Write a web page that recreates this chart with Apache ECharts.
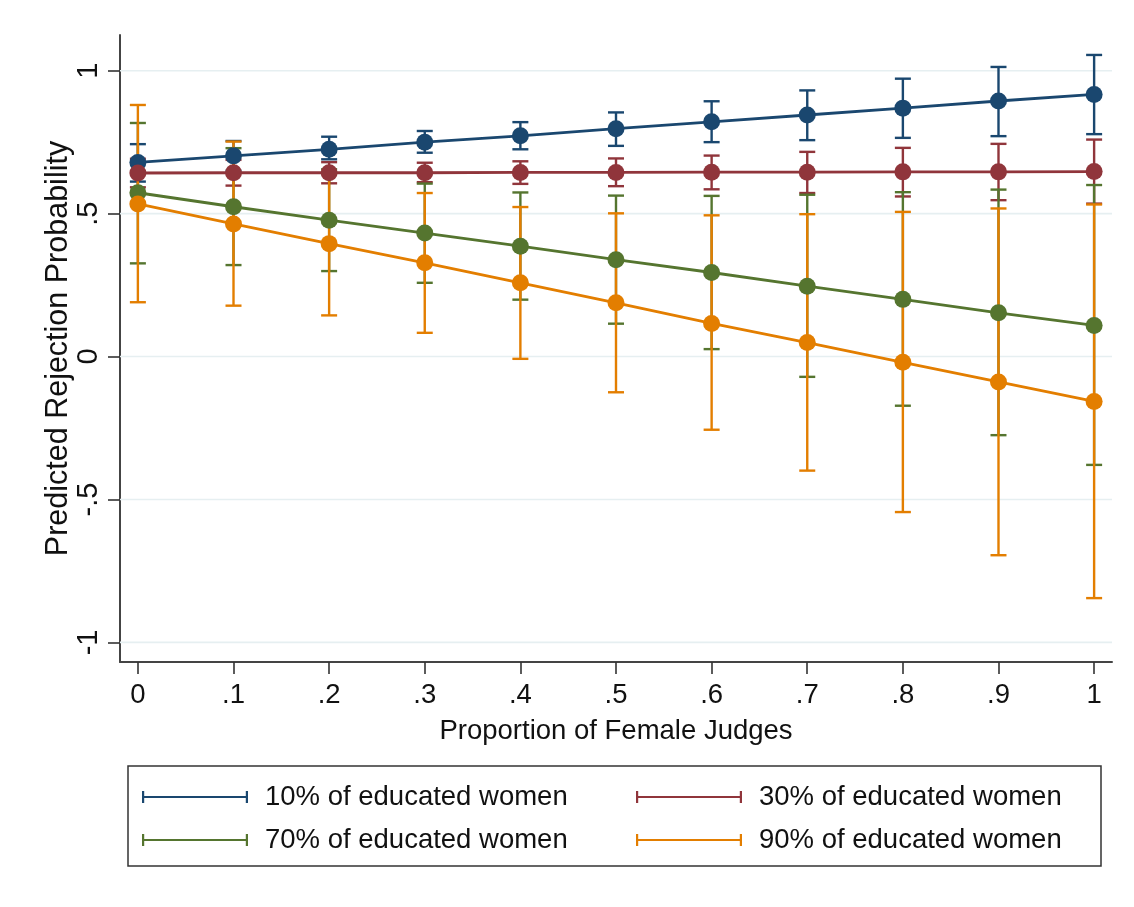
<!DOCTYPE html>
<html>
<head>
<meta charset="utf-8">
<title>Predicted Rejection Probability</title>
<script src="https://cdn.jsdelivr.net/npm/echarts@6/dist/echarts.min.js"></script>
<style>
  html, body { margin: 0; padding: 0; background: #ffffff; }
  #chart { width: 1134px; height: 907px; }
</style>
</head>
<body>
<div id="chart"></div>
<script>
// Proportion of female judges (x positions)
const judgeShare = [0, 0.1, 0.2, 0.3, 0.4, 0.5, 0.6, 0.7, 0.8, 0.9, 1];

// Tick values and their printed labels
const xTickValues = [0, 0.1, 0.2, 0.3, 0.4, 0.5, 0.6, 0.7, 0.8, 0.9, 1];
const xTickLabels = ['0', '.1', '.2', '.3', '.4', '.5', '.6', '.7', '.8', '.9', '1'];
const yTickValues = [-1, -0.5, 0, 0.5, 1];
const yTickLabels = ['-1', '-.5', '0', '.5', '1'];

// Group names
const groupNames = ['10% of educated women', '30% of educated women', '70% of educated women', '90% of educated women'];

// 10% of educated women: estimate and 95% CI
const edu10Est = [0.679, 0.702, 0.725, 0.750, 0.772, 0.797, 0.821, 0.845, 0.869, 0.894, 0.917];
const edu10Lo  = [0.612, 0.650, 0.690, 0.713, 0.725, 0.737, 0.750, 0.757, 0.765, 0.771, 0.778];
const edu10Hi  = [0.743, 0.754, 0.769, 0.789, 0.820, 0.854, 0.893, 0.931, 0.972, 1.013, 1.055];

// 30% of educated women
const edu30Est = [0.642, 0.643, 0.643, 0.643, 0.644, 0.644, 0.645, 0.645, 0.646, 0.646, 0.647];
const edu30Lo  = [0.592, 0.598, 0.606, 0.610, 0.604, 0.596, 0.585, 0.572, 0.560, 0.547, 0.535];
const edu30Hi  = [0.692, 0.688, 0.680, 0.678, 0.683, 0.693, 0.703, 0.716, 0.730, 0.744, 0.759];

// 70% of educated women
const edu70Est = [0.573, 0.524, 0.477, 0.432, 0.386, 0.339, 0.294, 0.246, 0.200, 0.153, 0.109];
const edu70Lo  = [0.326, 0.320, 0.299, 0.258, 0.199, 0.115, 0.026, -0.071, -0.172, -0.275, -0.379];
const edu70Hi  = [0.817, 0.729, 0.655, 0.605, 0.574, 0.563, 0.562, 0.566, 0.575, 0.584, 0.600];

// 90% of educated women
const edu90Est = [0.534, 0.464, 0.395, 0.328, 0.258, 0.188, 0.116, 0.049, -0.020, -0.089, -0.157];
const edu90Lo  = [0.190, 0.178, 0.144, 0.083, -0.008, -0.125, -0.256, -0.399, -0.544, -0.695, -0.845];
const edu90Hi  = [0.880, 0.752, 0.646, 0.572, 0.523, 0.501, 0.494, 0.498, 0.506, 0.518, 0.532];

const groupColors = ['#1a476f', '#90353b', '#55752f', '#e37e00'];
const FONT = "'Liberation Sans', Arial, Helvetica, sans-serif";

const estimates = [edu10Est, edu30Est, edu70Est, edu90Est];
const lowers = [edu10Lo, edu30Lo, edu70Lo, edu90Lo];
const uppers = [edu10Hi, edu30Hi, edu70Hi, edu90Hi];

function labelFor(values, labels) {
  return function (v) {
    for (let i = 0; i < values.length; i++) {
      if (Math.abs(values[i] - v) < 1e-6) return labels[i];
    }
    return '';
  };
}

// Capped vertical interval (range cap plot)
function capRenderer(color) {
  return function (params, api) {
    const x = api.value(0);
    const lo = api.coord([x, api.value(1)]);
    const hi = api.coord([x, api.value(2)]);
    const half = 8;
    const style = { stroke: color, lineWidth: 2.4, fill: null };
    return {
      type: 'group',
      children: [
        { type: 'line', shape: { x1: lo[0], y1: lo[1], x2: hi[0], y2: hi[1] }, style: style },
        { type: 'line', shape: { x1: lo[0] - half, y1: lo[1], x2: lo[0] + half, y2: lo[1] }, style: style },
        { type: 'line', shape: { x1: hi[0] - half, y1: hi[1], x2: hi[0] + half, y2: hi[1] }, style: style }
      ]
    };
  };
}

// Horizontal grid lines at the labelled y ticks
const gridSeries = {
  type: 'custom',
  silent: true,
  z: 1,
  data: yTickValues.map(function (v) { return [0, v]; }),
  renderItem: function (params, api) {
    const cs = params.coordSys;
    const y = api.coord([0, api.value(1)])[1];
    return {
      type: 'line',
      shape: { x1: cs.x, y1: y, x2: cs.x + cs.width, y2: y },
      style: { stroke: '#e6eff1', lineWidth: 1.6 }
    };
  }
};

const ciSeries = groupNames.map(function (name, g) {
  return {
    name: name,
    type: 'custom',
    z: 2,
    itemStyle: { color: groupColors[g] },
    data: judgeShare.map(function (x, i) { return [x, lowers[g][i], uppers[g][i]]; }),
    encode: { x: 0, y: [1, 2] },
    renderItem: capRenderer(groupColors[g])
  };
});

const lineSeries = groupNames.map(function (name, g) {
  return {
    name: name,
    type: 'line',
    z: 3,
    symbol: 'circle',
    symbolSize: 17,
    showSymbol: true,
    itemStyle: { color: groupColors[g] },
    lineStyle: { color: groupColors[g], width: 2.8 },
    data: judgeShare.map(function (x, i) { return [x, estimates[g][i]]; })
  };
});

// Legend key: horizontal bar with end caps
const capIcon = 'path://M0,0 L2.2,0 L2.2,12 L0,12 Z M0,5 L106,5 L106,7 L0,7 Z M103.8,0 L106,0 L106,12 L103.8,12 Z';

const legendPos = [
  { left: 142, top: 781 },
  { left: 636, top: 781 },
  { left: 142, top: 824 },
  { left: 636, top: 824 }
];

const legends = groupNames.map(function (name, g) {
  return {
    data: [{ name: name, icon: capIcon }],
    left: legendPos[g].left,
    top: legendPos[g].top,
    padding: 0,
    itemWidth: 106,
    itemHeight: 12,
    selectedMode: false,
    textStyle: {
      fontFamily: FONT,
      fontSize: 27.5,
      color: '#111',
      lineHeight: 32,
      padding: [0, 0, 0, 12]
    }
  };
});

const option = {
  animation: false,
  backgroundColor: '#ffffff',
  grid: { left: 120, top: 35, width: 992, height: 627 },
  legend: legends,
  graphic: [
    {
      type: 'rect',
      shape: { x: 128, y: 766, width: 973, height: 100 },
      style: { fill: null, stroke: '#333', lineWidth: 1.5 },
      silent: true
    }
  ],
  xAxis: {
    type: 'value',
    min: -0.0187,
    max: 1.0187,
    name: 'Proportion of Female Judges',
    nameLocation: 'middle',
    nameGap: 55,
    nameMoveOverlap: false,
    nameTextStyle: { fontFamily: FONT, fontSize: 27.5, color: '#111' },
    axisLine: { onZero: false, lineStyle: { color: '#444', width: 2 } },
    axisTick: { show: true, length: 12, customValues: xTickValues, lineStyle: { color: '#333', width: 1.6 } },
    axisLabel: {
      customValues: xTickValues,
      formatter: labelFor(xTickValues, xTickLabels),
      margin: 19,
      fontFamily: FONT,
      fontSize: 27.5,
      color: '#111'
    },
    splitLine: { show: false }
  },
  yAxis: {
    type: 'value',
    min: -1.0685,
    max: 1.1248,
    name: 'Predicted Rejection Probability',
    nameLocation: 'middle',
    nameGap: 46,
    nameMoveOverlap: false,
    nameTextStyle: { fontFamily: FONT, fontSize: 30.5, color: '#111' },
    axisLine: { onZero: false, lineStyle: { color: '#444', width: 2 } },
    axisTick: { show: true, length: 12, customValues: yTickValues, lineStyle: { color: '#333', width: 1.6 } },
    axisLabel: {
      customValues: yTickValues,
      formatter: labelFor(yTickValues, yTickLabels),
      rotate: 90,
      margin: 17,
      fontFamily: FONT,
      fontSize: 29,
      color: '#111'
    },
    splitLine: { show: false }
  },
  series: [gridSeries].concat(ciSeries, lineSeries)
};

const chart = echarts.init(document.getElementById('chart'), null, { renderer: 'canvas' });
chart.setOption(option);
</script>
</body>
</html>
